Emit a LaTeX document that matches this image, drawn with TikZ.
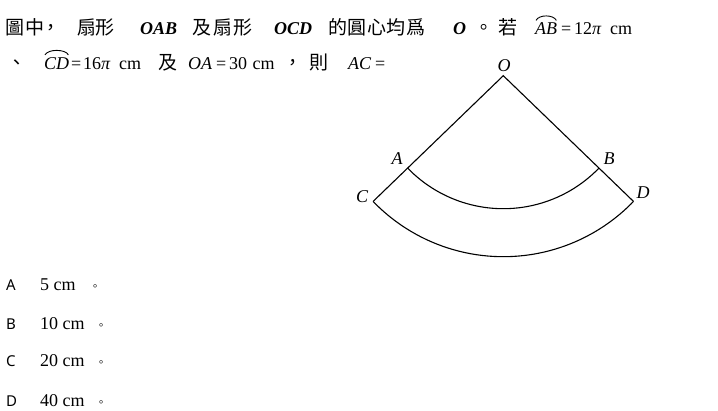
\documentclass[tikz,border=0pt]{standalone}
\usepackage{fontspec}
\setmainfont{Liberation Serif}
\setsansfont{Noto Sans}
\newfontfamily\cjk{Noto Sans CJK TC}
\usetikzlibrary{calc}
\begin{document}
\begin{tikzpicture}[x=1pt,y=1pt,
  txt/.style={inner sep=0pt, anchor=base west, font=\fontsize{18}{20}\selectfont},
  itx/.style={txt, font=\fontsize{18}{20}\selectfont\itshape},
  bix/.style={txt, font=\fontsize{18}{20}\selectfont\bfseries\itshape},
  cj/.style={inner sep=0pt, anchor=base, font=\cjk\fontsize{19}{20}\selectfont},
  cjs/.style={inner sep=0pt, anchor=base, font=\cjk\fontsize{11}{12}\selectfont},
  opt/.style={inner sep=0pt, anchor=base west, font=\sffamily\fontsize{15}{17}\selectfont},
  val/.style={inner sep=0pt, anchor=base west, font=\fontsize{18}{20}\selectfont},
  lbl/.style={inner sep=0pt, font=\fontsize{18}{20}\selectfont\itshape},
  fig/.style={line width=1.1pt, black},
  hat/.style={line width=0.9pt, black}]
\useasboundingbox (0,0) rectangle (718,410);
% ---- line 1 ----
\node[cj] (t1) at (15,375) {圖};
\node[cj] (t2) at (35,375) {中};
\node[cj] (t3) at (51,375) {，};
\node[cj] (t4) at (87,375) {扇};
\node[cj] (t5) at (105,375) {形};
\node[bix] (t6) at (140,375) {OAB};
\node[cj] (t7) at (202,375) {及};
\node[cj] (t8) at (223,375) {扇};
\node[cj] (t9) at (243,375) {形};
\node[bix] (t10) at (274,375) {OCD};
\node[cj] (t11) at (338,375) {的};
\node[cj] (t12) at (357,375) {圓};
\node[cj] (t13) at (377,375) {心};
\node[cj] (t14) at (396,375) {均};
\node[cj] (t15) at (416,375) {爲};
\node[bix] (t16) at (453,375) {O};
\node[cj] (t17) at (484,375) {。};
\node[cj] (t18) at (508,375) {若};
\node[itx] (ab) at (535,375) {AB};
\node[txt] (t19) at (561,375) {=};
\node[txt] (t20) at (574,375) {12{\itshape π}\hspace{0.5em}cm};
\draw[hat] ($(ab.north west)+(1,2.5)$) .. controls ($(ab.north west)+(4,8.5)$) and ($(ab.north east)+(-4,8.5)$) .. ($(ab.north east)+(-1,2.5)$);
% ---- line 2 ----
\node[cj] (s1) at (17,340.5) {、};
\node[itx] (cd) at (44,340.5) {CD};
\node[txt] (s2) at (71,340.5) {=};
\node[txt] (s3) at (83,340.5) {16{\itshape π}\hspace{0.5em}cm};
\node[cj] (s5) at (168,340.5) {及};
\node[itx] (s6) at (188,340.5) {OA};
\node[txt] (s7) at (216,340.5) {=};
\node[txt] (s8) at (229,340.5) {30\hspace{0.3em}cm};
\node[cj] (s10) at (293,340.5) {，};
\node[cj] (s11) at (319,340.5) {則};
\node[itx] (s12) at (348,340.5) {AC};
\node[txt] (s13) at (375,340.5) {=};
\draw[hat] ($(cd.north west)+(1,2.5)$) .. controls ($(cd.north west)+(4,8.5)$) and ($(cd.north east)+(-4,8.5)$) .. ($(cd.north east)+(-1,2.5)$);
% ---- figure ----
\coordinate (O) at (503.3,334.3);
\coordinate (A) at ($(O)+(224:133)$);
\coordinate (B) at ($(O)+(316:133)$);
\coordinate (C) at ($(O)+(224:181)$);
\coordinate (D) at ($(O)+(316:181)$);
\draw[fig] (C) -- (O) -- (D);
\draw[fig] (A) arc[start angle=224, end angle=316, radius=133];
\draw[fig] (C) arc[start angle=224, end angle=316, radius=181];
\node[lbl] (lO) at (504,344) {O};
\node[lbl] (lA) at (397,251) {A};
\node[lbl] (lB) at (609,251) {B};
\node[lbl] (lC) at (362,213) {C};
\node[lbl] (lD) at (643,217) {D};
% ---- options ----
\node[opt] (oA) at (6,119.3) {A};
\node[val] (vA) at (40,119.3) {5 cm};
\node[cjs] (pA) at (95,119.3) {。};
\node[opt] (oB) at (6,81) {B};
\node[val] (vB) at (40,81) {10 cm};
\node[cjs] (pB) at (101,81) {。};
\node[opt] (oC) at (6,43) {C};
\node[val] (vC) at (40,43) {20 cm};
\node[cjs] (pC) at (101,43) {。};
\node[opt] (oD) at (6,4) {D};
\node[val] (vD) at (40,4) {40 cm};
\node[cjs] (pD) at (101,4) {。};
\end{tikzpicture}
\end{document}
